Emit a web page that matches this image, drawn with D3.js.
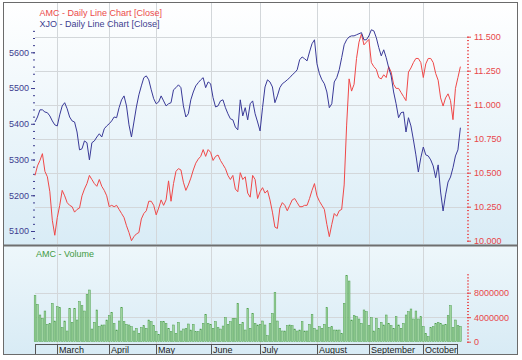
<!DOCTYPE html>
<html><head><meta charset="utf-8">
<script src="https://cdn.jsdelivr.net/npm/d3@7"></script>
<style>body{margin:0;background:#fff}svg{display:block}text{font-family:"Liberation Sans",Arial,sans-serif}</style>
</head><body><svg id="c" width="522" height="360"></svg>
<script>
const xjoClose=[5405,5419,5439,5439,5433,5431,5422,5408,5397,5394,
5425,5450,5459,5442,5419,5408,5405,5377,5327,5330,
5352,5347,5299,5347,5352,5363,5372,5363,5386,5394,
5400,5408,5419,5417,5445,5467,5478,5450,5397,5363,
5405,5447,5481,5506,5529,5534,5523,5495,5470,5456,
5461,5478,5464,5450,5456,5459,5495,5501,5509,5501,
5450,5419,5428,5467,5489,5506,5515,5523,5529,5501,
5517,5512,5473,5447,5450,5464,5467,5445,5428,5414,
5411,5391,5383,5467,5422,5445,5411,5456,5464,5428,
5405,5380,5445,5503,5523,5517,5503,5459,5478,5501,
5512,5517,5523,5529,5537,5543,5551,5579,5587,5582,
5576,5601,5624,5635,5568,5540,5523,5512,5489,5445,
5456,5517,5529,5551,5585,5621,5635,5643,5646,5646,
5649,5652,5655,5635,5635,5646,5663,5660,5641,5613,
5590,5607,5585,5557,5534,5489,5456,5417,5431,5433,
5377,5417,5394,5355,5313,5265,5305,5335,5313,5310,
5299,5282,5249,5285,5209,5156,5201,5237,5251,5277,
5310,5327,5389];
const amcClose=[10.48,10.55,10.59,10.64,10.51,10.47,10.36,10.15,10.04,10.17,
10.26,10.37,10.33,10.28,10.26,10.25,10.21,10.23,10.24,10.33,
10.38,10.42,10.48,10.45,10.42,10.40,10.45,10.40,10.37,10.33,
10.25,10.26,10.25,10.26,10.23,10.20,10.17,10.11,10.06,10.00,
10.03,10.05,10.06,10.16,10.20,10.22,10.29,10.29,10.26,10.19,
10.24,10.30,10.26,10.30,10.44,10.29,10.42,10.51,10.53,10.52,
10.43,10.37,10.41,10.46,10.52,10.57,10.60,10.62,10.67,10.62,
10.67,10.65,10.59,10.62,10.63,10.59,10.56,10.53,10.48,10.45,
10.48,10.38,10.36,10.50,10.45,10.47,10.35,10.32,10.48,10.45,
10.31,10.36,10.39,10.35,10.37,10.30,10.21,10.10,10.09,10.24,
10.28,10.26,10.22,10.26,10.30,10.31,10.28,10.25,10.25,10.26,
10.26,10.31,10.37,10.42,10.33,10.29,10.26,10.23,10.12,10.03,
10.12,10.20,10.18,10.22,10.23,10.41,10.85,11.19,11.10,11.15,
11.34,11.46,11.52,11.44,11.46,11.48,11.31,11.28,11.26,11.20,
11.19,11.22,11.20,11.28,11.24,11.15,11.12,11.12,11.09,11.06,
11.03,11.24,11.27,11.31,11.34,11.34,11.31,11.20,11.30,11.34,
11.34,11.31,11.23,11.18,11.05,10.99,11.05,11.08,11.03,10.89,
11.12,11.20,11.28];
const amcVolumeM=[7.52,6.10,4.36,3.82,5.01,2.84,3.00,6.27,3.38,5.71,
5.55,2.29,3.38,1.75,5.45,3.17,5.45,3.54,6.53,5.88,
5.01,7.74,8.44,2.07,3.17,5.18,2.45,2.73,2.73,3.54,
4.24,4.80,3.00,1.91,3.38,5.55,3.27,2.84,2.73,2.45,
1.75,2.19,1.37,2.29,2.61,2.19,3.54,3.27,2.61,1.63,
1.21,3.27,3.27,3.00,2.19,1.63,2.73,1.37,3.17,1.75,
2.07,2.19,2.89,1.91,2.84,1.63,1.63,2.07,3.00,4.47,
3.00,2.84,2.19,3.27,2.29,2.07,2.56,3.92,2.84,3.27,
3.82,3.82,6.27,
2.84,3.17,1.91,5.45,2.19,4.63,3.00,2.73,2.84,3.38,
2.73,0.98,3.00,4.63,8.06,3.38,2.19,1.75,1.75,2.61,
2.73,2.61,2.07,1.75,1.91,3.27,1.75,1.75,2.84,4.47,
2.19,1.91,2.45,2.19,2.84,5.55,2.29,2.45,1.91,1.91,
1.91,1.37,6.27,10.78,9.91,3.54,4.24,4.08,3.71,3.00,
5.18,4.90,2.61,3.92,1.75,3.82,2.19,3.17,2.73,4.36,
3.00,2.61,2.19,4.08,2.73,2.19,3.00,4.36,4.90,5.34,
3.71,5.01,3.71,4.08,2.45,1.37,0.82,2.29,2.45,3.00,
3.17,3.00,2.73,2.84,4.24,5.88,2.29,3.54,2.61,2.50];
const monthLabels=["March","April","May","June","July","August","September","October"];
const monthStartIndex=[9,30,49,71,91,114,135,157];
const xjoTicks=[5100,5200,5300,5400,5500,5600];
const amcTicks=[10.0,10.25,10.5,10.75,11.0,11.25,11.5];
const volTicks=[0,4000000,8000000];
const titles=["AMC - Daily Line Chart [Close]","XJO - Daily Line Chart [Close]","AMC - Volume"];

const svg=d3.select("#c");
const N=xjoClose.length;
const x=d3.scaleLinear().domain([0,N-1]).range([35,460.4]);
const yX=d3.scaleLinear().domain([5100,5600]).range([231,52.3]);
const yA=d3.scaleLinear().domain([10,11.5]).range([240.7,36.7]);
const yV=d3.scaleLinear().domain([0,8000000]).range([341.7,292.7]);

const defs=svg.append("defs");
const g1=defs.append("linearGradient").attr("id","g1").attr("x1",0).attr("y1",0).attr("x2",0).attr("y2",1);
g1.append("stop").attr("offset",0).attr("stop-color","#ffffff");
g1.append("stop").attr("offset",1).attr("stop-color","#d9ecf6");
const g2=defs.append("linearGradient").attr("id","g2").attr("x1",0).attr("y1",0).attr("x2",0).attr("y2",1);
g2.append("stop").attr("offset",0).attr("stop-color","#eef7fb");
g2.append("stop").attr("offset",1).attr("stop-color","#d8ebf5");

// panels
svg.append("rect").attr("x",3.5).attr("y",2.5).attr("width",514).attr("height",242.5).attr("fill","url(#g1)");
svg.append("rect").attr("x",3.5).attr("y",245).attr("width",514).attr("height",110).attr("fill","url(#g2)");

// vertical gridlines
const grid=svg.append("g").attr("stroke","#d3d7da").attr("stroke-width",1);
monthStartIndex.forEach(i=>{
  const xx=Math.round(x(i))+0.5;
  grid.append("line").attr("x1",xx).attr("x2",xx).attr("y1",3).attr("y2",244);
  grid.append("line").attr("x1",xx).attr("x2",xx).attr("y1",247).attr("y2",344);
});
amcTicks.slice(1).forEach(t=>{
  const yy=Math.round(yA(t))+0.5;
  grid.append("line").attr("x1",35).attr("x2",467).attr("y1",yy).attr("y2",yy);
});
volTicks.slice(1).forEach(t=>{
  const yy=Math.round(yV(t))+0.5;
  grid.append("line").attr("x1",35).attr("x2",467).attr("y1",yy).attr("y2",yy);
});

// left axis (XJO)
const navy="#3d3d8f", red="#e8474a";
function styleAxis(g,color){g.select(".domain").remove();g.selectAll("line").attr("stroke",color);g.selectAll("text").attr("fill",color).style("font-size","9px").style("font-family","'Liberation Sans',Arial,sans-serif");}
const minorX=d3.range(5080,5661,20);
svg.append("g").attr("transform","translate(35,0)").call(d3.axisLeft(yX).tickValues(minorX).tickSize(2).tickFormat("")).call(g=>styleAxis(g,navy));
svg.append("g").attr("transform","translate(35,0)").call(d3.axisLeft(yX).tickValues(xjoTicks).tickSize(4).tickPadding(2).tickFormat(d3.format("d"))).call(g=>styleAxis(g,navy));
// right axis (AMC)
const minorA=d3.range(0,61).map(k=>10+k*0.025);
svg.append("g").attr("transform","translate(467,0)").call(d3.axisRight(yA).tickValues(minorA).tickSize(2).tickFormat("")).call(g=>styleAxis(g,red));
svg.append("g").attr("transform","translate(467,0)").call(d3.axisRight(yA).tickValues(amcTicks).tickSize(4).tickPadding(3).tickFormat(d3.format(".3f"))).call(g=>styleAxis(g,red));

// lines
const clip=defs.append("clipPath").attr("id","cp").append("rect").attr("x",4).attr("y",3).attr("width",512).attr("height",241);
const plot=svg.append("g").attr("clip-path","url(#cp)");
plot.append("path").datum(amcClose).attr("fill","none").attr("stroke","#f04848").attr("stroke-width",1)
  .attr("d",d3.line().x((d,i)=>x(i)).y(d=>yA(d)));
plot.append("path").datum(xjoClose).attr("fill","none").attr("stroke","#3a3a98").attr("stroke-width",1)
  .attr("d",d3.line().x((d,i)=>x(i)).y(d=>yX(d)));

// titles
svg.append("text").attr("x",39.5).attr("y",15.5).attr("fill","#ec4a4a").style("font-size","9px").text(titles[0]);
svg.append("text").attr("x",39.5).attr("y",27).attr("fill","#3d3d8f").style("font-size","9px").text(titles[1]);

// divider
svg.append("line").attr("x1",3).attr("x2",518).attr("y1",245.5).attr("y2",245.5).attr("stroke","#6f6f6f").attr("stroke-width",2);

// volume
svg.append("text").attr("x",36).attr("y",257).attr("fill","#3f9a3f").style("font-size","9px").text(titles[2]);
svg.append("g").selectAll("rect").data(amcVolumeM).join("rect")
  .attr("x",(d,i)=>x(i)-0.8).attr("width",1.7)
  .attr("y",d=>yV(d*1e6)).attr("height",d=>yV(0)-yV(d*1e6))
  .attr("fill","#9fd49f").attr("stroke","#4f9f4f").attr("stroke-width",0.5);
const minorV=d3.range(0,23).map(k=>k*500000);
svg.append("g").attr("transform","translate(467,0)").call(d3.axisRight(yV).tickValues(minorV).tickSize(2).tickFormat("")).call(g=>styleAxis(g,red));
svg.append("g").attr("transform","translate(467,0)").call(d3.axisRight(yV).tickValues(volTicks).tickSize(4).tickPadding(3).tickFormat(d3.format("d"))).call(g=>styleAxis(g,red));

// x axis strip
const strip=svg.append("g");
strip.append("line").attr("x1",35).attr("x2",457).attr("y1",344.5).attr("y2",344.5).attr("stroke","#555");
strip.append("line").attr("x1",35.5).attr("x2",35.5).attr("y1",344).attr("y2",355).attr("stroke","#555");
strip.append("line").attr("x1",457.5).attr("x2",457.5).attr("y1",344).attr("y2",355).attr("stroke","#555");
monthStartIndex.forEach((i,k)=>{
  const xx=Math.round(x(i))+0.5;
  strip.append("line").attr("x1",xx).attr("x2",xx).attr("y1",344).attr("y2",355).attr("stroke","#555");
  strip.append("text").attr("x",xx+1.5).attr("y",352.5).attr("fill","#222").style("font-size","9px").text(monthLabels[k]);
});

// frame
svg.append("rect").attr("x",3.5).attr("y",2.5).attr("width",514).attr("height",352).attr("fill","none").attr("stroke","#6b6b6b");
</script></body></html>
